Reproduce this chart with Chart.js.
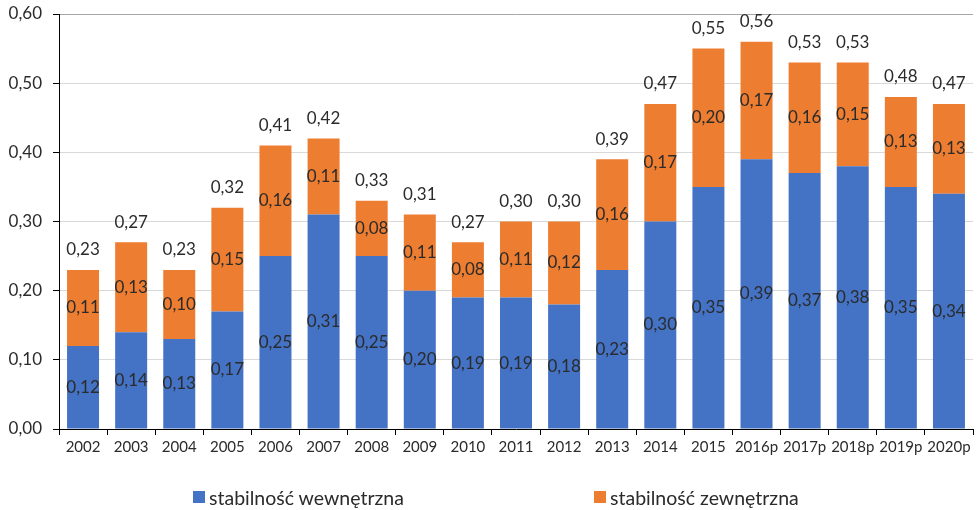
<!DOCTYPE html>
<html><head><meta charset="utf-8">
<script src="https://cdn.jsdelivr.net/npm/chart.js@4/dist/chart.umd.min.js"></script>
<style>
html,body{margin:0;padding:0;background:#fff;}
#wrap{position:relative;width:977px;height:510px;}
#legend{position:absolute;left:0;top:485px;width:977px;height:24px;font-family:Lato,sans-serif;font-size:19.5px;color:#2b2b2b;}
.item{position:absolute;top:0;height:24px;display:flex;align-items:center;white-space:nowrap;}
.box{width:12px;height:12px;margin-right:4px;}
</style></head>
<body><div id="wrap"><canvas id="c" width="977" height="510"></canvas><div id="legend"></div></div>
<script>
const categories = ['2002','2003','2004','2005','2006','2007','2008','2009','2010','2011','2012','2013','2014','2015','2016p','2017p','2018p','2019p','2020p'];
const internalStability = [0.12,0.14,0.13,0.17,0.25,0.31,0.25,0.20,0.19,0.19,0.18,0.23,0.30,0.35,0.39,0.37,0.38,0.35,0.34];
const externalStability = [0.11,0.13,0.10,0.15,0.16,0.11,0.08,0.11,0.08,0.11,0.12,0.16,0.17,0.20,0.17,0.16,0.15,0.13,0.13];
const totals = [0.23,0.27,0.23,0.32,0.41,0.42,0.33,0.31,0.27,0.30,0.30,0.39,0.47,0.55,0.56,0.53,0.53,0.48,0.47];
const seriesNames = ['stabilność wewnętrzna','stabilność zewnętrzna'];
const seriesColors = ['#4472C4','#ED7D31'];
const yMin = 0, yMax = 0.6, yStep = 0.1;

const fmt = v => v.toFixed(2).replace('.', ',');
const TEXT = '#2b2b2b';
const FONT = 'Lato, sans-serif';

const labelPlugin = {
  id: 'valueLabels',
  afterDatasetsDraw(chart) {
    const ctx = chart.ctx;
    ctx.save();
    ctx.font = '17px ' + FONT;
    ctx.fillStyle = TEXT;
    ctx.textAlign = 'center';
    ctx.textBaseline = 'middle';
    chart.data.datasets.forEach((ds, di) => {
      chart.getDatasetMeta(di).data.forEach((el, i) => {
        ctx.fillText(fmt(ds.data[i]), el.x, (el.y + el.base) / 2);
      });
    });
    const topMeta = chart.getDatasetMeta(chart.data.datasets.length - 1);
    topMeta.data.forEach((el, i) => {
      ctx.fillText(fmt(totals[i]), el.x, el.y - 20);
    });
    ctx.restore();
  }
};

const chart = new Chart(document.getElementById('c'), {
  type: 'bar',
  data: {
    labels: categories,
    datasets: [
      { label: seriesNames[0], data: internalStability, backgroundColor: seriesColors[0] },
      { label: seriesNames[1], data: externalStability, backgroundColor: seriesColors[1] }
    ]
  },
  options: {
    responsive: false,
    animation: false,
    devicePixelRatio: 1,
    layout: { padding: { top: 14, right: 4, left: 0, bottom: 31 } },
    datasets: { bar: { categoryPercentage: 1, barPercentage: 0.665, borderWidth: 0 } },
    plugins: { legend: { display: false }, tooltip: { enabled: false } },
    scales: {
      x: {
        stacked: true,
        afterFit: s => { s.height = 50; },
        border: { color: '#000', width: 1 },
        grid: {
          offset: true,
          drawOnChartArea: true,
          color: c => (c.index === categories.length ? '#A6A6A6' : 'rgba(0,0,0,0)'),
          tickColor: '#000',
          tickLength: 6
        },
        ticks: { color: TEXT, font: { family: FONT, size: 15 }, padding: 3, maxRotation: 0, autoSkip: false }
      },
      y: {
        stacked: true,
        min: yMin, max: yMax,
        afterFit: s => { s.width = 59; s.paddingTop = 0; s.paddingBottom = 0; },
        border: { color: '#000', width: 1 },
        grid: {
          color: c => (c.tick && Math.abs(c.tick.value - yMax) < 1e-9 ? '#A6A6A6' : '#D9D9D9'),
          tickColor: '#000',
          tickLength: 6
        },
        ticks: { stepSize: yStep, color: TEXT, font: { family: FONT, size: 17 }, padding: 11, callback: v => fmt(v) }
      }
    }
  },
  plugins: [labelPlugin]
});

// HTML legend built from the chart's datasets
const legendEl = document.getElementById('legend');
const legendLeft = [193, 594];
chart.data.datasets.forEach((ds, i) => {
  const item = document.createElement('div');
  item.className = 'item';
  item.style.left = legendLeft[i] + 'px';
  const box = document.createElement('span');
  box.className = 'box';
  box.style.background = ds.backgroundColor;
  const txt = document.createElement('span');
  txt.textContent = ds.label;
  item.appendChild(box); item.appendChild(txt);
  legendEl.appendChild(item);
});
</script>
</body></html>
